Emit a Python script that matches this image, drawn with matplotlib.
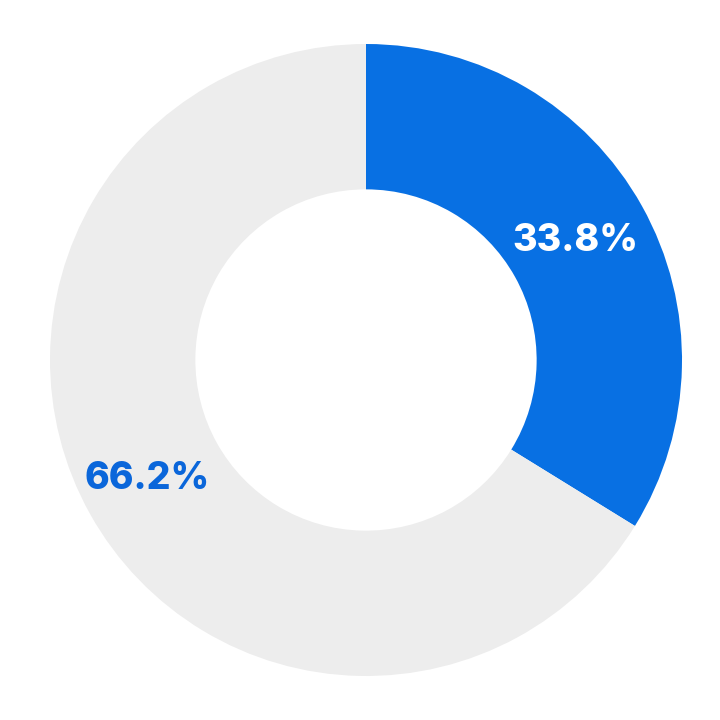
import matplotlib
matplotlib.use("Agg")
import matplotlib.pyplot as plt

labels = ["Blue", "Gray"]
values = [33.8, 66.2]
colors = ["#0870E3", "#EDEDED"]
text_colors = ["white", "#0A66DA"]

fig = plt.figure(figsize=(7.2, 7.2), dpi=100)
ax = fig.add_axes([50 / 720, 44 / 720, 632 / 720, 632 / 720])

wedges, texts, autotexts = ax.pie(
    values, colors=colors, startangle=90, counterclock=False,
    radius=1.0, wedgeprops=dict(width=0.46, linewidth=0),
    autopct=lambda p: f"{p:.1f}%", pctdistance=0.77,
)
for t, c in zip(autotexts, text_colors):
    t.set_color(c)
    t.set_fontsize(27)
    t.set_fontweight("heavy")
    t.set_fontfamily(["Inter", "DejaVu Sans"])
# nudge labels a little to match the reference
autotexts[0].set_x(autotexts[0].get_position()[0] - 0.01)
autotexts[1].set_x(autotexts[1].get_position()[0] - 0.02)

ax.set_xlim(-1, 1)
ax.set_ylim(-1, 1)
ax.set_aspect("equal")
ax.axis("off")

fig.savefig("out.png", dpi=100)
